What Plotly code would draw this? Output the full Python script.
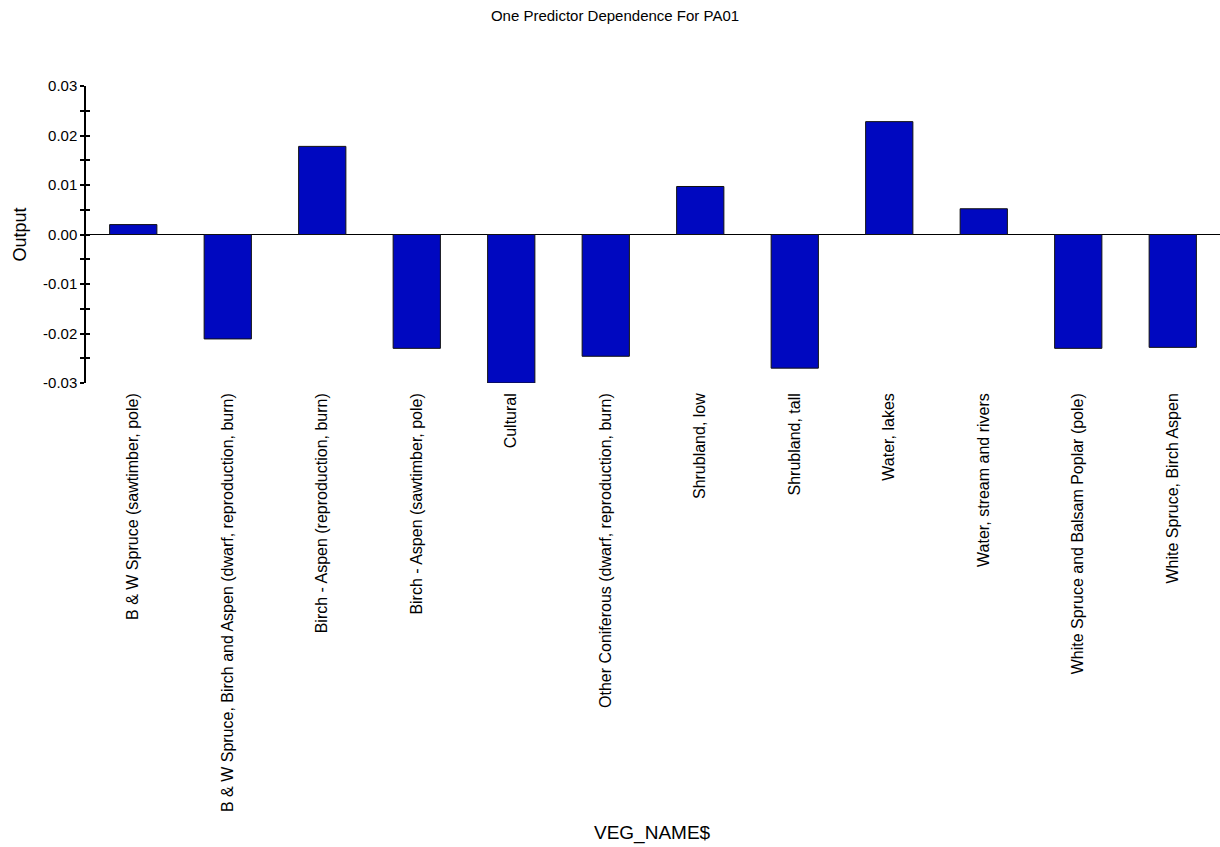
import plotly.graph_objects as go

# Partial dependence of PA01 on vegetation class
categories = [
    "B & W Spruce (sawtimber, pole)",
    "B & W Spruce, Birch and Aspen (dwarf, reproduction, burn)",
    "Birch - Aspen (reproduction, burn)",
    "Birch - Aspen (sawtimber, pole)",
    "Cultural",
    "Other Coniferous (dwarf, reproduction, burn)",
    "Shrubland, low",
    "Shrubland, tall",
    "Water, lakes",
    "Water, stream and rivers",
    "White Spruce and Balsam Poplar (pole)",
    "White Spruce, Birch Aspen",
]
output_values = [0.0020, -0.0211, 0.0178, -0.0230, -0.0300, -0.0246,
                 0.0097, -0.0270, 0.0228, 0.0052, -0.0230, -0.0228]

y_tick_values = [0.03, 0.02, 0.01, 0.0, -0.01, -0.02, -0.03]
y_tick_labels = ["0.03", "0.02", "0.01", "0.00", "-0.01", "-0.02", "-0.03"]

FONT = "Arial, Liberation Sans, sans-serif"
W, H = 1220, 847
M_TOP, M_BOT = 86, 464
PLOT_H = H - M_TOP - M_BOT

fig = go.Figure()
fig.add_trace(
    go.Bar(
        x=categories,
        y=output_values,
        width=0.5,
        marker=dict(color="#0008C0", line=dict(color="#111111", width=1)),
    )
)
# empty trace so the overlaid tick axis is rendered
fig.add_trace(go.Scatter(x=[], y=[], yaxis="y2", showlegend=False, hoverinfo="skip"))

tick_style = dict(ticklen=4, tickwidth=1.5, tickcolor="black")

fig.update_layout(
    width=W,
    height=H,
    margin=dict(l=86, r=0, t=M_TOP, b=M_BOT),
    paper_bgcolor="white",
    plot_bgcolor="white",
    showlegend=False,
    font=dict(family=FONT, size=15, color="black"),
    title=dict(
        text="One Predictor Dependence For PA01",
        x=615 / W, xref="container", xanchor="center",
        y=1 - 16 / H, yref="container", yanchor="middle",
        font=dict(family=FONT, size=15, color="black"),
    ),
    xaxis=dict(
        type="category",
        range=[-0.5, 11.5],
        tickangle=-90,
        showline=False,
        showgrid=False,
        ticks="",
        ticklabelstandoff=6,
        tickfont=dict(family=FONT, size=16, color="black"),
    ),
    yaxis=dict(
        range=[-0.03, 0.03],
        tickvals=y_tick_values,
        ticktext=y_tick_labels,
        showgrid=False,
        showline=True,
        linecolor="black",
        linewidth=1.5,
        ticks="outside",
        **tick_style,
        minor=dict(dtick=0.005, ticks="outside", **tick_style),
        zeroline=True,
        zerolinecolor="black",
        zerolinewidth=1.2,
        tickfont=dict(family=FONT, size=15, color="black"),
        title=dict(text="Output", font=dict(family=FONT, size=18, color="black"), standoff=12),
    ),
    # overlaid axis carrying the inward half of each tick mark
    yaxis2=dict(
        overlaying="y",
        side="left",
        anchor="x",
        range=[-0.03, 0.03],
        tickvals=y_tick_values,
        showticklabels=False,
        showgrid=False,
        zeroline=False,
        showline=False,
        ticks="inside",
        **tick_style,
        minor=dict(dtick=0.005, ticks="inside", **tick_style),
    ),
    annotations=[
        dict(
            text="VEG_NAME$",
            x=(652 - 86) / (W - 86), xref="paper", xanchor="center",
            y=-(833 - (M_TOP + PLOT_H)) / PLOT_H, yref="paper", yanchor="middle",
            showarrow=False,
            font=dict(family=FONT, size=19, color="black"),
        )
    ],
)

fig.write_html("out.html")
